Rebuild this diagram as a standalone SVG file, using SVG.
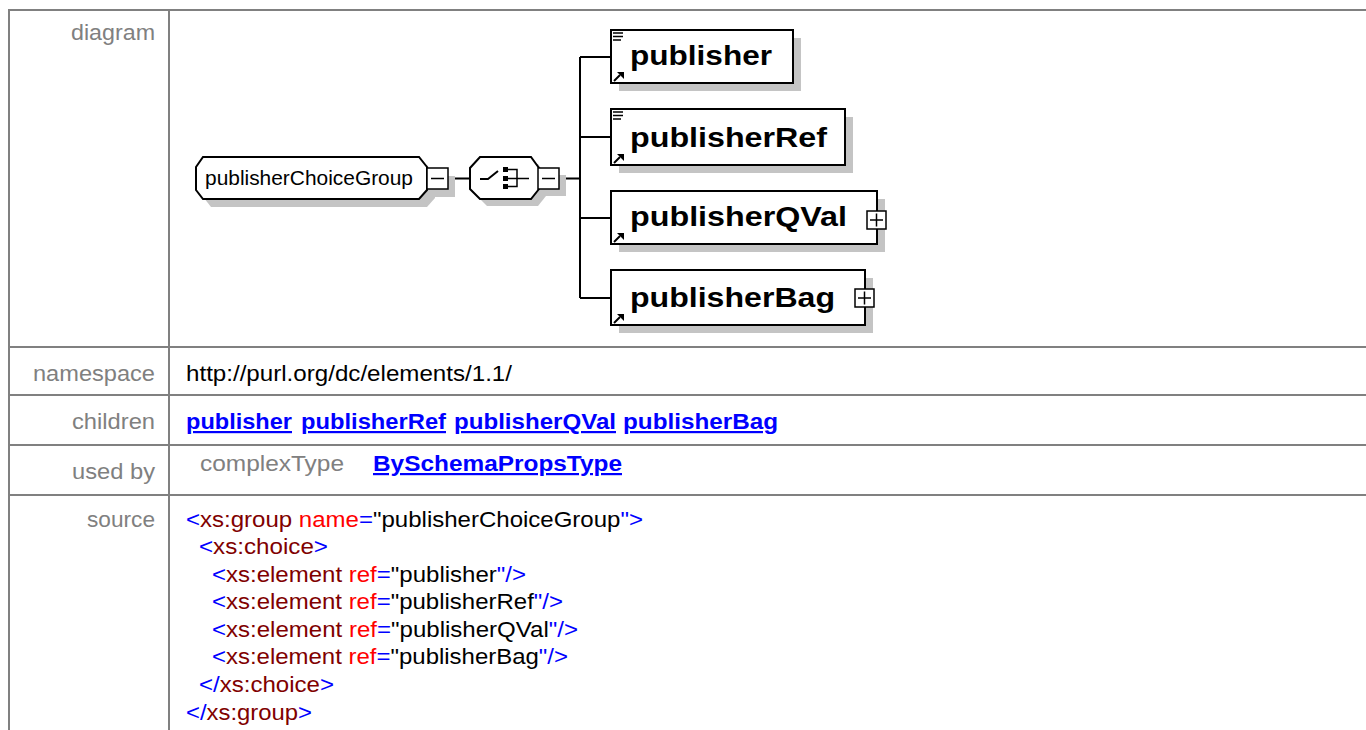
<svg xmlns="http://www.w3.org/2000/svg" width="1366" height="730" viewBox="0 0 1366 730">
<style>
.tl{stroke:#808080;stroke-width:2;fill:none}
.f{font-family:"Liberation Sans",Arial,Helvetica,sans-serif}
.lbl{font-size:22px;fill:#808080;text-anchor:end}
.t{font-size:22px;fill:#000}
.lnk{font-weight:bold;fill:#0000ff;text-decoration:underline}
.gr{fill:#808080}
.m{fill:#0000ff}.e{fill:#800000}.a{fill:#ff0000}.v{fill:#000}
.node{fill:#fff;stroke:#000;stroke-width:2}
.sh{fill:#c4c4c4}
.conn{stroke:#000;stroke-width:2;fill:none}
.btn{fill:#fff;stroke:#000;stroke-width:1.5}
.sym{stroke:#000;stroke-width:1.5;fill:none}
.en{font-size:28px;font-weight:bold;fill:#000}
.gn{font-size:21px;fill:#000}
</style>
<defs>
<g id="lnkicon"><path d="M0,0 L6,-6" stroke="#000" stroke-width="2"/><path d="M3,-9 L10,-9 L10,-2 Z" fill="#000"/></g>
<g id="docicon"><path d="M0,0 H10 M0,3.5 H10 M0,7 H8" stroke="#000" stroke-width="1.3"/></g>
</defs>
<rect width="1366" height="730" fill="#fff"/>

<g id="table">
<path class="tl" d="M8,10 H1366 M9,10 V730 M169,10 V730 M8,347 H1366 M8,395 H1366 M8,445 H1366 M8,495 H1366"/>
<text class="f lbl" x="155" y="40" textLength="84" lengthAdjust="spacingAndGlyphs">diagram</text>
<text class="f lbl" x="155" y="381" textLength="122" lengthAdjust="spacingAndGlyphs">namespace</text>
<text class="f lbl" x="155" y="429" textLength="83" lengthAdjust="spacingAndGlyphs">children</text>
<text class="f lbl" x="155" y="479" textLength="83" lengthAdjust="spacingAndGlyphs">used by</text>
<text class="f lbl" x="155" y="527" textLength="68" lengthAdjust="spacingAndGlyphs">source</text>

<text class="f t" x="186" y="381" textLength="326" lengthAdjust="spacingAndGlyphs">http://purl.org/dc/elements/1.1/</text>

<text class="f t lnk" x="186" y="429" textLength="106" lengthAdjust="spacingAndGlyphs">publisher</text>
<text class="f t lnk" x="301" y="429" textLength="145" lengthAdjust="spacingAndGlyphs">publisherRef</text>
<text class="f t lnk" x="454" y="429" textLength="162" lengthAdjust="spacingAndGlyphs">publisherQVal</text>
<text class="f t lnk" x="623" y="429" textLength="155" lengthAdjust="spacingAndGlyphs">publisherBag</text>

<text class="f t gr" x="200" y="471" textLength="144" lengthAdjust="spacingAndGlyphs">complexType</text>
<text class="f t lnk" x="373" y="471" textLength="249" lengthAdjust="spacingAndGlyphs">BySchemaPropsType</text>

<text class="f t" x="186" y="527" textLength="457" lengthAdjust="spacingAndGlyphs"><tspan class="m">&lt;</tspan><tspan class="e">xs:group</tspan> <tspan class="a">name</tspan><tspan class="m">=</tspan><tspan class="v">"publisherChoiceGroup</tspan><tspan class="m">"&gt;</tspan></text>
<text class="f t" x="199" y="554" textLength="129" lengthAdjust="spacingAndGlyphs"><tspan class="m">&lt;</tspan><tspan class="e">xs:choice</tspan><tspan class="m">&gt;</tspan></text>
<text class="f t" x="212" y="582" textLength="314" lengthAdjust="spacingAndGlyphs"><tspan class="m">&lt;</tspan><tspan class="e">xs:element</tspan> <tspan class="a">ref</tspan><tspan class="m">=</tspan><tspan class="v">"publisher</tspan><tspan class="m">"/&gt;</tspan></text>
<text class="f t" x="212" y="609" textLength="351" lengthAdjust="spacingAndGlyphs"><tspan class="m">&lt;</tspan><tspan class="e">xs:element</tspan> <tspan class="a">ref</tspan><tspan class="m">=</tspan><tspan class="v">"publisherRef</tspan><tspan class="m">"/&gt;</tspan></text>
<text class="f t" x="212" y="637" textLength="366" lengthAdjust="spacingAndGlyphs"><tspan class="m">&lt;</tspan><tspan class="e">xs:element</tspan> <tspan class="a">ref</tspan><tspan class="m">=</tspan><tspan class="v">"publisherQVal</tspan><tspan class="m">"/&gt;</tspan></text>
<text class="f t" x="212" y="664" textLength="356" lengthAdjust="spacingAndGlyphs"><tspan class="m">&lt;</tspan><tspan class="e">xs:element</tspan> <tspan class="a">ref</tspan><tspan class="m">=</tspan><tspan class="v">"publisherBag</tspan><tspan class="m">"/&gt;</tspan></text>
<text class="f t" x="199" y="692" textLength="135" lengthAdjust="spacingAndGlyphs"><tspan class="m">&lt;/</tspan><tspan class="e">xs:choice</tspan><tspan class="m">&gt;</tspan></text>
<text class="f t" x="186" y="720" textLength="126" lengthAdjust="spacingAndGlyphs"><tspan class="m">&lt;/</tspan><tspan class="e">xs:group</tspan><tspan class="m">&gt;</tspan></text>
</g>

<g id="connectors">
<path class="conn" d="M448,178.5 H470 M559,178.5 H580 M580,57 V298 M580,57 H611 M580,137 H611 M580,218 H611 M580,298 H611"/>
</g>

<g id="node-group">
<polygon class="sh" points="211,165 427,165 435,175 435,198 427,207 211,207 204,198 204,175"/>
<rect class="sh" x="435" y="176" width="20" height="21"/>
<polygon class="node" points="203,157 419,157 427,167 427,190 419,199 203,199 196,190 196,167"/>
<text class="f gn" x="205" y="185" textLength="208" lengthAdjust="spacingAndGlyphs">publisherChoiceGroup</text>
<rect class="btn" x="427" y="168" width="21" height="21"/>
<path class="sym" d="M431,178.5 H444"/>
</g>

<g id="node-choice">
<polygon class="sh" points="487,164 538,164 546,175 546,196 538,206 487,206 477,196 477,175"/>
<rect class="sh" x="545" y="175" width="21" height="21"/>
<polygon class="node" points="480,157 531,157 539,168 539,189 531,199 480,199 470,189 470,168"/>
<path class="conn" d="M480,179 H488 L498,171"/>
<rect x="503" y="167" width="5" height="5" fill="#000"/>
<rect x="503" y="176" width="5" height="5" fill="#000"/>
<rect x="503" y="184" width="5" height="5" fill="#000"/>
<path class="sym" d="M508,169.5 H517 V186.5 H508 M508,178.5 H529"/>
<rect class="btn" x="538" y="168" width="21" height="21"/>
<path class="sym" d="M542,178.5 H555"/>
</g>

<g id="node-publisher">
<rect class="sh" x="619" y="38" width="182" height="53"/>
<rect class="node" x="611" y="30" width="182" height="53"/>
<use href="#docicon" x="613" y="33"/>
<use href="#lnkicon" transform="translate(614,81)"/>
<text class="f en" x="630" y="65" textLength="142" lengthAdjust="spacingAndGlyphs">publisher</text>
</g>

<g id="node-publisherRef">
<rect class="sh" x="619" y="117" width="234" height="56"/>
<rect class="node" x="611" y="109" width="234" height="56"/>
<use href="#docicon" x="613" y="112"/>
<use href="#lnkicon" transform="translate(614,163)"/>
<text class="f en" x="630" y="147" textLength="197" lengthAdjust="spacingAndGlyphs">publisherRef</text>
</g>

<g id="node-publisherQVal">
<rect class="sh" x="619" y="199" width="266" height="53"/>
<rect class="node" x="611" y="191" width="266" height="53"/>
<use href="#lnkicon" transform="translate(614,242)"/>
<text class="f en" x="630" y="226" textLength="217" lengthAdjust="spacingAndGlyphs">publisherQVal</text>
<rect class="btn" x="867" y="211" width="19" height="18"/>
<path class="sym" d="M870,220 H883 M876.5,213.5 V226.5"/>
</g>

<g id="node-publisherBag">
<rect class="sh" x="619" y="278" width="254" height="55"/>
<rect class="node" x="611" y="270" width="254" height="55"/>
<use href="#lnkicon" transform="translate(614,323)"/>
<text class="f en" x="630" y="307" textLength="205" lengthAdjust="spacingAndGlyphs">publisherBag</text>
<rect class="btn" x="855" y="289" width="19" height="18"/>
<path class="sym" d="M858,298 H871 M864.5,291.5 V304.5"/>
</g>
</svg>
